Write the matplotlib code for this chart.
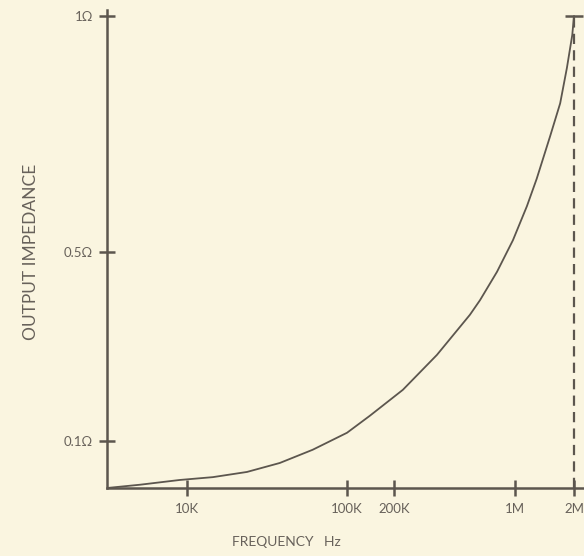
import matplotlib.pyplot as plt
import numpy as np

# curve (frequency in Hz, output impedance in ohms)
freq_hz = [3.16e3, 5.1e3, 9.0e3, 1.45e4, 2.37e4, 3.8e4, 6.1e4, 1.0e5, 1.40e5,
           2.25e5, 3.54e5, 5.49e5, 6.28e5, 7.87e5, 9.73e5, 1.15e6,
           1.29e6, 1.51e6, 1.70e6, 1.84e6, 1.96e6, 2.0e6]
impedance = [0.0, 0.007, 0.017, 0.023, 0.034, 0.053, 0.081, 0.117, 0.153,
             0.208, 0.282, 0.367, 0.398, 0.458, 0.525, 0.597,
             0.655, 0.745, 0.815, 0.89, 0.96, 1.0]

x_ticks = [1e4, 1e5, 2e5, 1e6, 2e6]
x_tick_labels = ["10K", "100K", "200K", "1M", "2M"]
y_ticks = [0.1, 0.5, 1.0]
y_tick_labels = ["0.1\u03a9", "0.5\u03a9", "1\u03a9"]

cutoff_hz = 2e6
z_max = 1.0

ink = "#5c564e"
text_ink = "#67615a"
paper = "#faf5e0"

# the hand-drawn frequency axis is not a clean log scale, so map
# log10(f) piecewise onto the spacing used in the drawing
log_anchor = np.log10([3.16e3, 1e4, 1e5, 2e5, 1e6, 2e6, 2.25e6])
pos_anchor = np.array([107, 187, 347, 394, 515, 574, 584], dtype=float)


def fwd(f):
    f = np.clip(np.asarray(f, dtype=float), 1.0, None)
    return np.interp(np.log10(f), log_anchor, pos_anchor)


def inv(p):
    return 10 ** np.interp(np.asarray(p, dtype=float), pos_anchor, log_anchor)


plt.rcParams["font.family"] = ["Lato", "DejaVu Sans"]

fig = plt.figure(figsize=(5.84, 5.56), dpi=100, facecolor=paper)
ax = fig.add_axes([107 / 584, 68 / 556, 477 / 584, 478 / 556])
ax.set_facecolor(paper)

ax.set_xscale("function", functions=(fwd, inv))
ax.set_xlim(3.16e3, 2.25e6)
ax.set_ylim(0, 478 / 472)

ax.plot(freq_hz, impedance, color=ink, lw=1.3, solid_capstyle="round",
        solid_joinstyle="round")
ax.vlines(cutoff_hz, 0, z_max, color=ink, lw=1.6,
          linestyles=(0, (4.6, 2.8)))
ax.plot([cutoff_hz], [z_max], marker="_", markersize=13, mew=1.8,
        color=ink, clip_on=False)

for side in ["top", "right"]:
    ax.spines[side].set_visible(False)
for side in ["left", "bottom"]:
    ax.spines[side].set_color(ink)
    ax.spines[side].set_linewidth(1.8)

ax.set_xticks(x_ticks)
ax.set_xticklabels(x_tick_labels)
ax.xaxis.set_minor_locator(plt.NullLocator())
ax.set_yticks(y_ticks)
ax.set_yticklabels(y_tick_labels)

ax.tick_params(axis="both", direction="inout", length=12, width=1.8,
               color=ink, labelcolor=text_ink, labelsize=9.5)
ax.tick_params(axis="x", pad=5)
ax.tick_params(axis="y", pad=4)

ax.set_xlabel("FREQUENCY   Hz", fontsize=10, color=text_ink)
ax.set_ylabel("OUTPUT IMPEDANCE", fontsize=12.5, color=text_ink)
ax.xaxis.set_label_coords((286 - 107) / 477, -48 / 478)
ax.yaxis.set_label_coords(-68 / 477, (488 - 252) / 478)

fig.savefig("out.png", dpi=100, facecolor=paper)
